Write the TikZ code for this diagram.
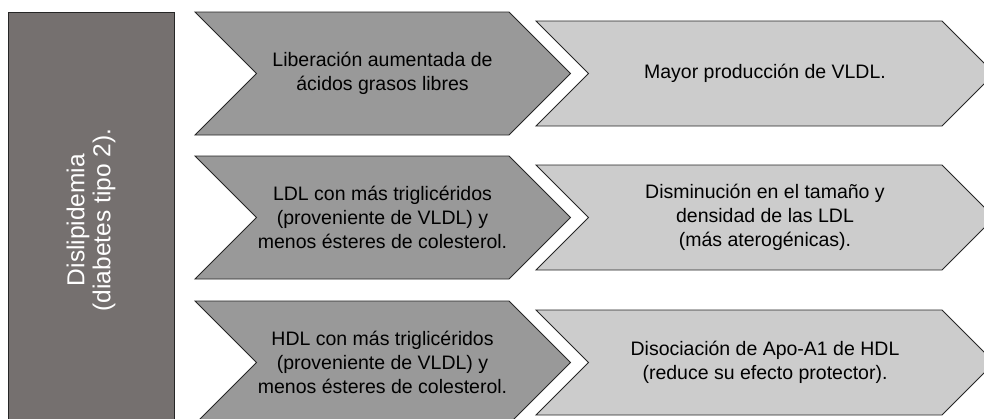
\documentclass[tikz,border=0pt]{standalone}
\usepackage{fontspec}
\setmainfont{Liberation Sans}
\definecolor{sidegray}{RGB}{117,112,111}
\begin{document}
\begin{tikzpicture}[x=1pt,y=-1pt,
  sidebox/.style={draw=black!85, line width=0.9pt, fill=sidegray},
  darkchev/.style={draw=black!85, line width=0.9pt, fill=black!40},
  lightchev/.style={draw=black!85, line width=0.9pt, fill=black!20},
  chevtext/.style={align=center, font=\fontsize{19.5}{24}\selectfont},
  sidetext/.style={align=center, text=white, rotate=90, font=\fontsize{24.5}{26}\selectfont}]
\useasboundingbox (0,0) rectangle (984,418);
\clip (0,0) rectangle (984,418);

% Side box with the title
\draw[sidebox] (8,12) rectangle (174,428);
\node[sidetext] (title) at (91,220) {Dislipidemia\\(diabetes tipo 2).};

% Dark chevrons = causes
\draw[darkchev] (195,12) -- (509,12) -- (570.5,73.5) -- (509,135) -- (195,135) -- (256.5,73.5) -- cycle;
\draw[darkchev] (195,156) -- (509,156) -- (570.5,217.5) -- (509,279) -- (195,279) -- (256.5,217.5) -- cycle;
\draw[darkchev] (195,301) -- (509,301) -- (570.5,362.5) -- (509,424) -- (195,424) -- (256.5,362.5) -- cycle;

% Light chevrons = effects
\draw[lightchev] (536,21) -- (942,21) -- (994.5,73.5) -- (942,126) -- (536,126) -- (588.5,73.5) -- cycle;
\draw[lightchev] (536,165) -- (942,165) -- (994.5,217.5) -- (942,270) -- (536,270) -- (588.5,217.5) -- cycle;
\draw[lightchev] (536,310) -- (942,310) -- (994.5,362.5) -- (942,415) -- (536,415) -- (588.5,362.5) -- cycle;

% Texts
\node[chevtext] (causeA) at (382.5,73.5) {Liberación aumentada de\\ácidos grasos libres};
\node[chevtext] (causeB) at (382.5,217.5) {LDL con más triglicéridos\\(proveniente de VLDL) y\\menos ésteres de colesterol.};
\node[chevtext] (causeC) at (382.5,362.5) {HDL con más triglicéridos\\(proveniente de VLDL) y\\menos ésteres de colesterol.};
\node[chevtext] (effectA) at (765,73.5) {Mayor producción de VLDL.};
\node[chevtext] (effectB) at (765,217.5) {Disminución en el tamaño y\\densidad de las LDL\\(más aterogénicas).};
\node[chevtext] (effectC) at (765,362.5) {Disociación de Apo-A1 de HDL\\(reduce su efecto protector).};

\end{tikzpicture}
\end{document}
